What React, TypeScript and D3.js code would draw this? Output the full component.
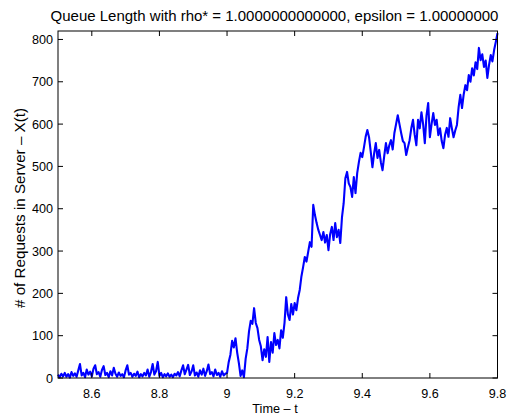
import * as d3 from 'd3';
import React, { useRef, useEffect } from 'react';

// sampling of the time axis
const T_START = 8.5;
const T_STEP = 0.005;

// queue length before the jump at t = 9 (8.500 .. 8.995)
const idleQueue = [
  8, 2, 10, 4, 12, 3, 9, 1, 14, 5,
  11, 3, 18, 33, 6, 12, 2, 20, 8, 15,
  4, 22, 30, 9, 14, 3, 19, 28, 7, 12,
  2, 16, 6, 24, 10, 3, 13, 5, 9, 2,
  18, 30, 8, 12, 3, 10, 5, 15, 2, 9,
  4, 12, 6, 20, 3, 14, 33, 8, 16, 38,
  5, 12, 2, 9, 4, 11, 3, 8, 2, 10,
  6, 14, 4, 18, 30, 9, 20, 31, 7, 15,
  30, 6, 13, 3, 18, 8, 22, 5, 16, 32,
  9, 14, 4, 20, 7, 12, 3, 16, 6, 10,
];

// queue length after t = 9 (9.000 .. 9.800)
const busyQueue = [
  12, 38, 55, 88, 72, 94, 60, 35, 5, 18,
  2, 45, 70, 110, 135, 128, 165, 130, 118, 90,
  75, 42, 68, 50, 97, 38, 85, 60, 106, 78,
  90, 70, 113, 95, 130, 191, 150, 137, 175, 150,
  177, 160, 189, 208, 240, 262, 286, 275, 298, 321,
  310, 409, 385, 366, 350, 338, 326, 345, 320, 338,
  302, 340, 357, 326, 366, 333, 350, 319, 380, 413,
  472, 487, 460, 451, 428, 475, 437, 484, 510, 532,
  522, 545, 570, 586, 569, 535, 498, 530, 555, 520,
  539, 510, 491, 525, 555, 531, 550, 562, 540, 579,
  600, 621, 600, 579, 560, 555, 527, 545, 562, 590,
  610, 575, 550, 610, 590, 628, 600, 555, 620, 650,
  569, 600, 626, 598, 610, 574, 590, 560, 543, 575,
  591, 570, 614, 590, 569, 585, 598, 640, 669, 638,
  670, 692, 680, 716, 700, 732, 715, 746, 730, 780,
  751, 765, 735, 750, 709, 740, 763, 748, 775, 794,
  815,
];

const xTicks = [8.6, 8.8, 9, 9.2, 9.4, 9.6, 9.8];
const yTicks = [0, 100, 200, 300, 400, 500, 600, 700, 800];

const W = 530;
const H = 418;
const margin = { top: 31, right: 32.5, bottom: 40, left: 58 };
const FONT = "'Liberation Sans', Arial, Helvetica, sans-serif";

function App() {
  const ref = useRef<SVGSVGElement>(null);

  useEffect(() => {
    const svg = d3.select(ref.current);
    svg.selectAll('*').remove();

    const w = W - margin.left - margin.right;
    const h = H - margin.top - margin.bottom;

    const queue = idleQueue.concat(busyQueue);
    const data = queue.map((v, i) => ({ t: T_START + i * T_STEP, v }));

    const x = d3.scaleLinear().domain([8.5, 9.8]).range([0, w]);
    const y = d3.scaleLinear().domain([0, 820]).range([h, 0]);

    const g = svg.append('g')
      .attr('transform', `translate(${margin.left},${margin.top})`);

    // data line
    const line = d3.line<{ t: number; v: number }>()
      .x(d => x(d.t))
      .y(d => y(d.v));

    g.append('path')
      .datum(data)
      .attr('d', line)
      .attr('fill', 'none')
      .attr('stroke', '#0000ff')
      .attr('stroke-width', 2.1)
      .attr('stroke-linejoin', 'round');

    // box
    g.append('rect')
      .attr('x', 0).attr('y', 0)
      .attr('width', w).attr('height', h)
      .attr('fill', 'none')
      .attr('stroke', '#000')
      .attr('stroke-width', 1);

    const tl = 5;
    // x ticks, bottom and top, pointing inwards
    xTicks.forEach(t => {
      const px = x(t);
      g.append('line').attr('x1', px).attr('x2', px).attr('y1', h).attr('y2', h - tl)
        .attr('stroke', '#000');
      g.append('line').attr('x1', px).attr('x2', px).attr('y1', 0).attr('y2', tl)
        .attr('stroke', '#000');
      g.append('text')
        .attr('x', px).attr('y', h + 20)
        .attr('text-anchor', 'middle')
        .attr('font-family', FONT).attr('font-size', 12.6)
        .text(String(t));
    });

    // y ticks, left and right
    yTicks.forEach(v => {
      const py = y(v);
      g.append('line').attr('x1', 0).attr('x2', tl).attr('y1', py).attr('y2', py)
        .attr('stroke', '#000');
      g.append('line').attr('x1', w).attr('x2', w - tl).attr('y1', py).attr('y2', py)
        .attr('stroke', '#000');
      g.append('text')
        .attr('x', -5).attr('y', py + 4.5)
        .attr('text-anchor', 'end')
        .attr('font-family', FONT).attr('font-size', 12.6)
        .text(String(v));
    });

    // labels
    svg.append('text')
      .attr('x', 274.5).attr('y', 20.5)
      .attr('text-anchor', 'middle')
      .attr('font-family', FONT).attr('font-size', 15)
      .text('Queue Length with rho* = 1.0000000000000, epsilon = 1.00000000');

    svg.append('text')
      .attr('x', 275).attr('y', 413)
      .attr('text-anchor', 'middle')
      .attr('font-family', FONT).attr('font-size', 12.7)
      .text('Time \u2013 t');

    svg.append('text')
      .attr('transform', 'translate(25,208) rotate(-90)')
      .attr('text-anchor', 'middle')
      .attr('font-family', FONT).attr('font-size', 15.2)
      .text('# of Requests in Server \u2013 X(t)');
  }, []);

  return (
    <svg ref={ref} width={W} height={H}
      style={{ position: 'absolute', left: 0, top: 0, background: '#fff' }} />
  );
}

export default App;
